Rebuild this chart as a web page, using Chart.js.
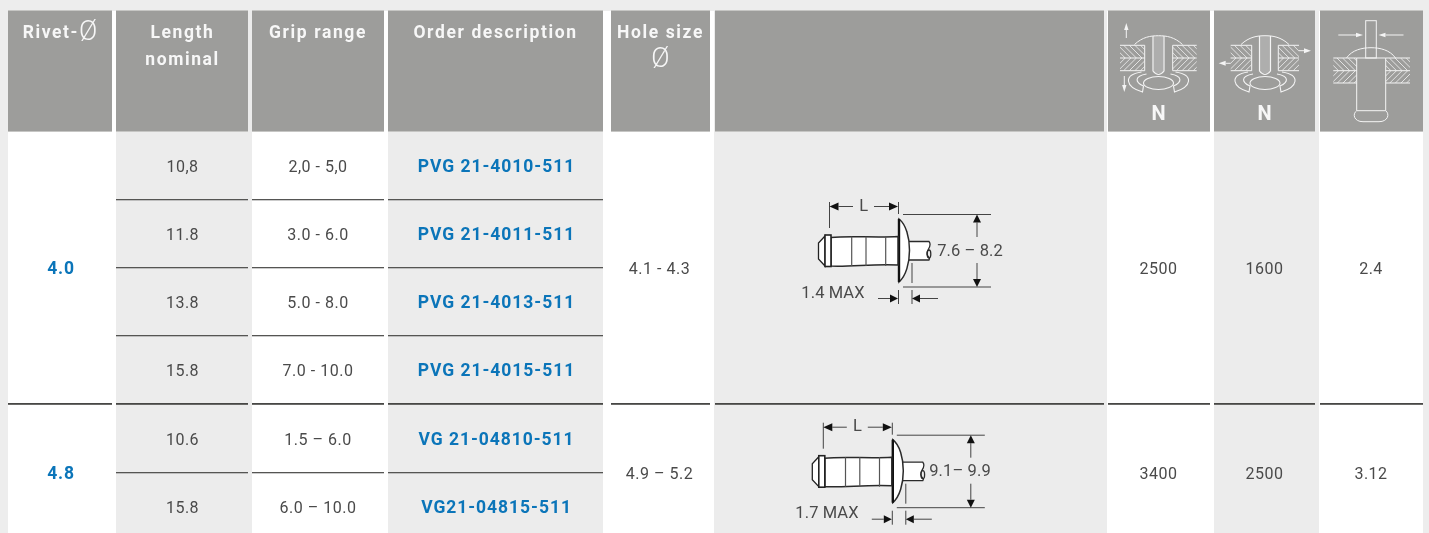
<!DOCTYPE html>
<html><head><meta charset="utf-8">
<script src="https://cdn.jsdelivr.net/npm/chart.js@4"></script>
<style>html,body{margin:0;padding:0;background:#ededed}canvas{display:block}</style>
</head><body><canvas id="c" width="1429" height="533"></canvas>
<script>
// ---- table content ----
const headers = [["Rivet-Ø"],["Length","nominal"],["Grip range"],["Order description"],["Hole size","Ø"]];
const rivetSizes = ["4.0","4.8"];
const lengths = ["10,8","11.8","13.8","15.8","10.6","15.8"];
const gripRanges = ["2,0 - 5,0","3.0 - 6.0","5.0 - 8.0","7.0 - 10.0","1.5 – 6.0","6.0 – 10.0"];
const orderCodes = ["PVG 21-4010-511","PVG 21-4011-511","PVG 21-4013-511","PVG 21-4015-511","VG 21-04810-511","VG21-04815-511"];
const holeSizes = ["4.1 - 4.3","4.9 – 5.2"];
const tensile = ["2500","3400"];
const shear = ["1600","2500"];
const pinBreak = ["2.4","3.12"];
const dimSpans = ["7.6 – 8.2","9.1– 9.9"];
const dimHeads = ["1.4 MAX","1.7 MAX"];

// ---- layout ----
const W=1429,H=533;
const cols=[[8,112],[116,248],[252,384],[388,603],[611,710],[715,1104],[1108,1210],[1214,1315],[1320,1423]];
const bands=[[116,252],[388,603],[714,1107],[1214,1319]];
const whites=[[8,116],[252,388],[603,714],[1107,1214],[1319,1423]];
const rowY=[167.5,235.5,303.5,371.5,440.5,508.5];
const groupY=[269.5,474.5];
const rowLines=[199,267,335,472];
const groupLine=404;
const colX={rivet:61,len:182.5,grip:318,order:496.5,hole:659.5,t:1158.5,s:1264.5,p:1371};
const pts=(x,ys)=>ys.map(y=>({x,y}));

const cellPlugin={id:'cells',beforeDatasetsDraw(ch){
  const c=ch.ctx,X=v=>ch.scales.x.getPixelForValue(v),Y=v=>ch.scales.y.getPixelForValue(v);
  c.save();
  whites.forEach(b=>{c.fillStyle='#fff';c.fillRect(X(b[0]),Y(0),X(b[1])-X(b[0]),Y(H)-Y(0));});
  bands.forEach(b=>{c.fillStyle='#ececec';c.fillRect(X(b[0]),Y(0),X(b[1])-X(b[0]),Y(H)-Y(0));});
  c.fillStyle='#ededed';c.fillRect(0,0,W,Y(11));
  cols.forEach(k=>{
    c.fillStyle='#c6c6c4';c.fillRect(X(k[0]),Y(10),X(k[1])-X(k[0]),Y(122));
    c.fillStyle='#9d9d9b';c.fillRect(X(k[0]),Y(11),X(k[1])-X(k[0]),Y(120));
  });
  c.fillStyle='#555553';
  rowLines.forEach(y=>{[1,2,3].forEach(i=>c.fillRect(X(cols[i][0]),Y(y),X(cols[i][1])-X(cols[i][0]),1.3));});
  c.fillStyle='#474745';
  cols.forEach(k=>c.fillRect(X(k[0]),Y(groupLine-1),X(k[1])-X(k[0]),1.8));
  c.restore();
}};

function poly(c,p,close){c.beginPath();p.forEach((q,i)=>i?c.lineTo(q[0],q[1]):c.moveTo(q[0],q[1]));if(close)c.closePath();}
function arrow(c,x1,y1,x2,y2,sz,wd){
  const a=Math.atan2(y2-y1,x2-x1);
  c.beginPath();c.moveTo(x1,y1);c.lineTo(x2-Math.cos(a)*sz,y2-Math.sin(a)*sz);c.stroke();
  c.beginPath();c.moveTo(x2,y2);
  c.lineTo(x2-Math.cos(a)*sz-Math.sin(a)*wd,y2-Math.sin(a)*sz+Math.cos(a)*wd);
  c.lineTo(x2-Math.cos(a)*sz+Math.sin(a)*wd,y2-Math.sin(a)*sz-Math.cos(a)*wd);
  c.closePath();c.fill();
}
function rivet(c,i,dx,dy){
  c.save();c.translate(dx,dy);
  c.strokeStyle='#2a2a2a';c.fillStyle='#fff';c.lineWidth=1.3;
  // mandrel
  c.beginPath();c.moveTo(906,241.5);c.lineTo(929,241.5);c.bezierCurveTo(933,246,926,250,927,254);c.bezierCurveTo(928,258,931,258,929,260);c.lineTo(906,260);c.closePath();c.fill();c.stroke();
  c.beginPath();c.ellipse(929,254,1.8,4,0,0,7);c.stroke();
  // head dome
  c.beginPath();c.moveTo(899,219);c.bezierCurveTo(913,230,913,270,899,282);c.closePath();c.fill();c.lineWidth=1.5;c.stroke();
  c.fillStyle='#111';c.fillRect(897.8,219,2.4,63);
  c.fillStyle='#fff';c.lineWidth=1.5;
  // body
  c.beginPath();c.moveTo(831,237.5);c.bezierCurveTo(850,235.5,875,238,898,236.5);c.lineTo(898,265);c.bezierCurveTo(875,263.5,850,267,831,266);c.closePath();c.fill();c.stroke();
  c.strokeStyle='#555';c.lineWidth=1.2;
  [851.7,866,885.7].forEach(x=>{c.beginPath();c.moveTo(x,236.5);c.lineTo(x,266);c.stroke();});
  c.strokeStyle='#222';c.lineWidth=1.3;
  // flange & nose
  poly(c,[[825,236],[818.5,243],[818.5,259],[825,266]],true);c.fill();c.stroke();
  c.fillRect(825,235,6,31.5);c.lineWidth=1.6;c.strokeRect(825,235,6,31.5);c.lineWidth=1;
  // dims
  c.strokeStyle='#444';c.fillStyle='#111';
  const ln=(a,b,e,f)=>{c.beginPath();c.moveTo(a,b);c.lineTo(e,f);c.stroke();};
  ln(829.5,202,829.5,228);ln(898.5,202,898.5,214);
  arrow(c,853,206.5,829.5,206.5,9,4);arrow(c,874,206.5,898,206.5,9,4);
  ln(903,214.5,991,214.5);ln(903,287,991,287);
  arrow(c,977,237,977,214.5,8,4);arrow(c,977,263,977,287,8,4);
  ln(912,263,912,283);ln(898.5,290,898.5,304);ln(912,290,912,304);
  arrow(c,878,298.5,898,298.5,8,4);arrow(c,938,298.5,912,298.5,8,4);
  c.restore();
}
function hatch(c,x,y,w,h,dir){
  c.save();c.lineWidth=0.8;c.beginPath();c.rect(x,y,w,h);c.clip();c.beginPath();
  for(let t=-h-6;t<w+h;t+=5.6){ if(dir>0){c.moveTo(x+t,y);c.lineTo(x+t+h,y+h);} else {c.moveTo(x+t+h,y);c.lineTo(x+t,y+h);} }
  c.stroke();c.restore();
}
function plate(c,a,b,y0,y1,y2){
  hatch(c,a,y0,b-a,y1-y0,1);hatch(c,a,y1,b-a,y2-y1,-1);
  c.beginPath();[y0,y1,y2].forEach(y=>{c.moveTo(a,y);c.lineTo(b,y);});c.stroke();
}
function pullIcon(c,cx,lx1,lx2,rx1,rx2){
  c.lineWidth=1;
  plate(c,lx1,lx2,45.3,58,70.7);plate(c,rx1,rx2,45.3,58,70.7);
  c.beginPath();c.moveTo(lx2,45.3);c.lineTo(lx2,70.7);c.moveTo(rx1,45.3);c.lineTo(rx1,70.7);c.stroke();
  // dome
  c.beginPath();c.moveTo(cx-24,44.5);c.bezierCurveTo(cx-16,37,cx-8,35.7,cx,35.7);c.bezierCurveTo(cx+8,35.7,cx+16,37,cx+24,44.5);c.stroke();
  // blind side curls
  c.lineWidth=1.1;
  c.beginPath();c.moveTo(cx-17,72);c.bezierCurveTo(cx-36,75,cx-33,87,cx-16,92);c.lineTo(cx-15,86);c.bezierCurveTo(cx-24,82,cx-24,76,cx-12,74);c.stroke();
  c.beginPath();c.moveTo(cx+17,72);c.bezierCurveTo(cx+36,75,cx+33,87,cx+16,92);c.lineTo(cx+15,86);c.bezierCurveTo(cx+24,82,cx+24,76,cx+12,74);c.stroke();
  c.beginPath();c.ellipse(cx,83,15,6.5,0,0,7);c.stroke();
  // mandrel
  c.lineWidth=1.2;
  c.fillStyle='rgba(255,255,255,.18)';c.fillRect(cx-5,36,10,37);
  c.beginPath();c.moveTo(cx-5.5,36);c.lineTo(cx-5.5,71);c.quadraticCurveTo(cx,78,cx+5.5,71);c.lineTo(cx+5.5,36);c.stroke();
  c.lineWidth=1;c.fillStyle='#f4f4f4';
}
const iconPlugin={id:'icons',afterDatasetsDraw(ch){
  const c=ch.ctx;
  c.save();
  rivet(c,0,0,0);
  rivet(c,1,-6.2,220.7);
  c.strokeStyle='#f4f4f4';c.fillStyle='#f4f4f4';c.lineWidth=1;
  pullIcon(c,1158.5,1120,1144.7,1172.7,1196.7);
  arrow(c,1126.3,38,1126.3,23,7,2.2);arrow(c,1124.3,76,1124.3,92,7,2.2);
  pullIcon(c,1265,1230.7,1251.7,1278.3,1299);
  arrow(c,1299,50.7,1311,50.7,7,2.5);arrow(c,1230.7,63.3,1218.7,63.3,7,2.5);
  // shear icon
  c.strokeRect(1365.7,20.7,10.6,37.3);
  arrow(c,1338.3,35,1363,35,7,2.2);arrow(c,1403.5,35,1378.5,35,7,2.2);
  c.beginPath();c.moveTo(1346.5,58);c.bezierCurveTo(1352,50,1362,47.7,1371,47.7);c.bezierCurveTo(1380,47.7,1390,50,1395.5,58);c.stroke();
  plate(c,1333.3,1356.7,58,70.7,83);plate(c,1385.7,1410,58,70.7,83);
  c.beginPath();c.moveTo(1356.7,58);c.lineTo(1356.7,110.7);c.moveTo(1385.7,58);c.lineTo(1385.7,110.7);c.moveTo(1356.7,58);c.lineTo(1385.7,58);c.moveTo(1356.7,110.7);c.lineTo(1385.7,110.7);c.stroke();
  c.beginPath();c.moveTo(1356.7,110.7);c.bezierCurveTo(1352,114,1354,121.7,1363,121.7);c.lineTo(1379,121.7);c.bezierCurveTo(1388,121.7,1390,114,1385.7,110.7);c.stroke();
  c.restore();
}};
function runs(c,s,x,y,font,sp){
  const parts=s.split(/(Ø)/).filter(Boolean);
  const fontOf=p=>p==='Ø'?'300 27px "Roboto"':font;
  const spOf=p=>p==='Ø'?'0px':sp;
  let w=0;parts.forEach(p=>{c.font=fontOf(p);c.letterSpacing=spOf(p);w+=c.measureText(p).width;});
  let px=x-w/2;c.textAlign='left';
  parts.forEach(p=>{c.font=fontOf(p);c.letterSpacing=spOf(p);c.fillText(p,px,y);px+=c.measureText(p).width;});
  c.letterSpacing='0px';
}
const textPlugin={id:'texts',afterDraw(ch){
  const c=ch.ctx;c.save();c.textBaseline='middle';
  const X=v=>ch.scales.x.getPixelForValue(v),Y=v=>ch.scales.y.getPixelForValue(v);
  ch.data.datasets.forEach((d,i)=>{
    const m=ch.getDatasetMeta(i);
    m.data.forEach((p,j)=>{
      c.fillStyle=d.textColor;
      runs(c,d.texts[j],p.x,p.y,d.textFont,d.textSpacing);
    });
  });
  c.fillStyle='#f7f7f7';
  const hx=[60,colX.len,318,495.5,660.5];
  headers.forEach((h,i)=>h.forEach((t,k)=>runs(c,t,X(hx[i]),Y(33.5+27*k),'700 17.5px "Roboto"','1.6px')));
  c.textAlign='center';c.font='700 20px "Roboto"';
  c.fillText('N',X(colX.t),Y(114.5));c.fillText('N',X(colX.s),Y(114.5));
  c.fillStyle='#4a4a4a';c.font='400 16.5px "Roboto"';c.letterSpacing='0.1px';
  c.textAlign='center';
  c.fillText('L',X(863.7),Y(206.5));c.fillText('L',X(857.5),Y(427));
  c.fillText(dimSpans[0],X(970),Y(251.5));c.fillText(dimSpans[1],X(960),Y(472));
  c.fillText(dimHeads[0],X(833),Y(293.5));c.fillText(dimHeads[1],X(827),Y(514));
  c.restore();
}};
const mk=(x,ys,texts,color,font,sp)=>({type:'scatter',data:pts(x,ys),texts,textColor:color,textFont:font,textSpacing:sp,pointRadius:0,showLine:false});
const BLUE='#0b75b9',GREY='#4a4a4a';
const bold='700 17.5px "Roboto"',reg='400 16px "Roboto"';
new Chart(document.getElementById('c'),{
  type:'scatter',
  data:{datasets:[
    mk(colX.rivet,groupY,rivetSizes,BLUE,bold,'0.8px'),
    mk(colX.len,rowY,lengths,GREY,reg,'0.5px'),
    mk(colX.grip,rowY,gripRanges,GREY,reg,'0.5px'),
    mk(colX.order,rowY,orderCodes,BLUE,bold,'0.95px'),
    mk(colX.hole,groupY,holeSizes,GREY,reg,'0.5px'),
    mk(colX.t,groupY,tensile,GREY,reg,'0.5px'),
    mk(colX.s,groupY,shear,GREY,reg,'0.5px'),
    mk(colX.p,groupY,pinBreak,GREY,reg,'0.5px')
  ]},
  options:{responsive:false,animation:false,events:[],layout:{padding:0},
    plugins:{legend:{display:false},tooltip:{enabled:false},title:{display:false}},
    scales:{x:{type:'linear',display:false,min:0,max:W},y:{type:'linear',display:false,min:0,max:H,reverse:true}}},
  plugins:[cellPlugin,iconPlugin,textPlugin]
});
</script></body></html>
